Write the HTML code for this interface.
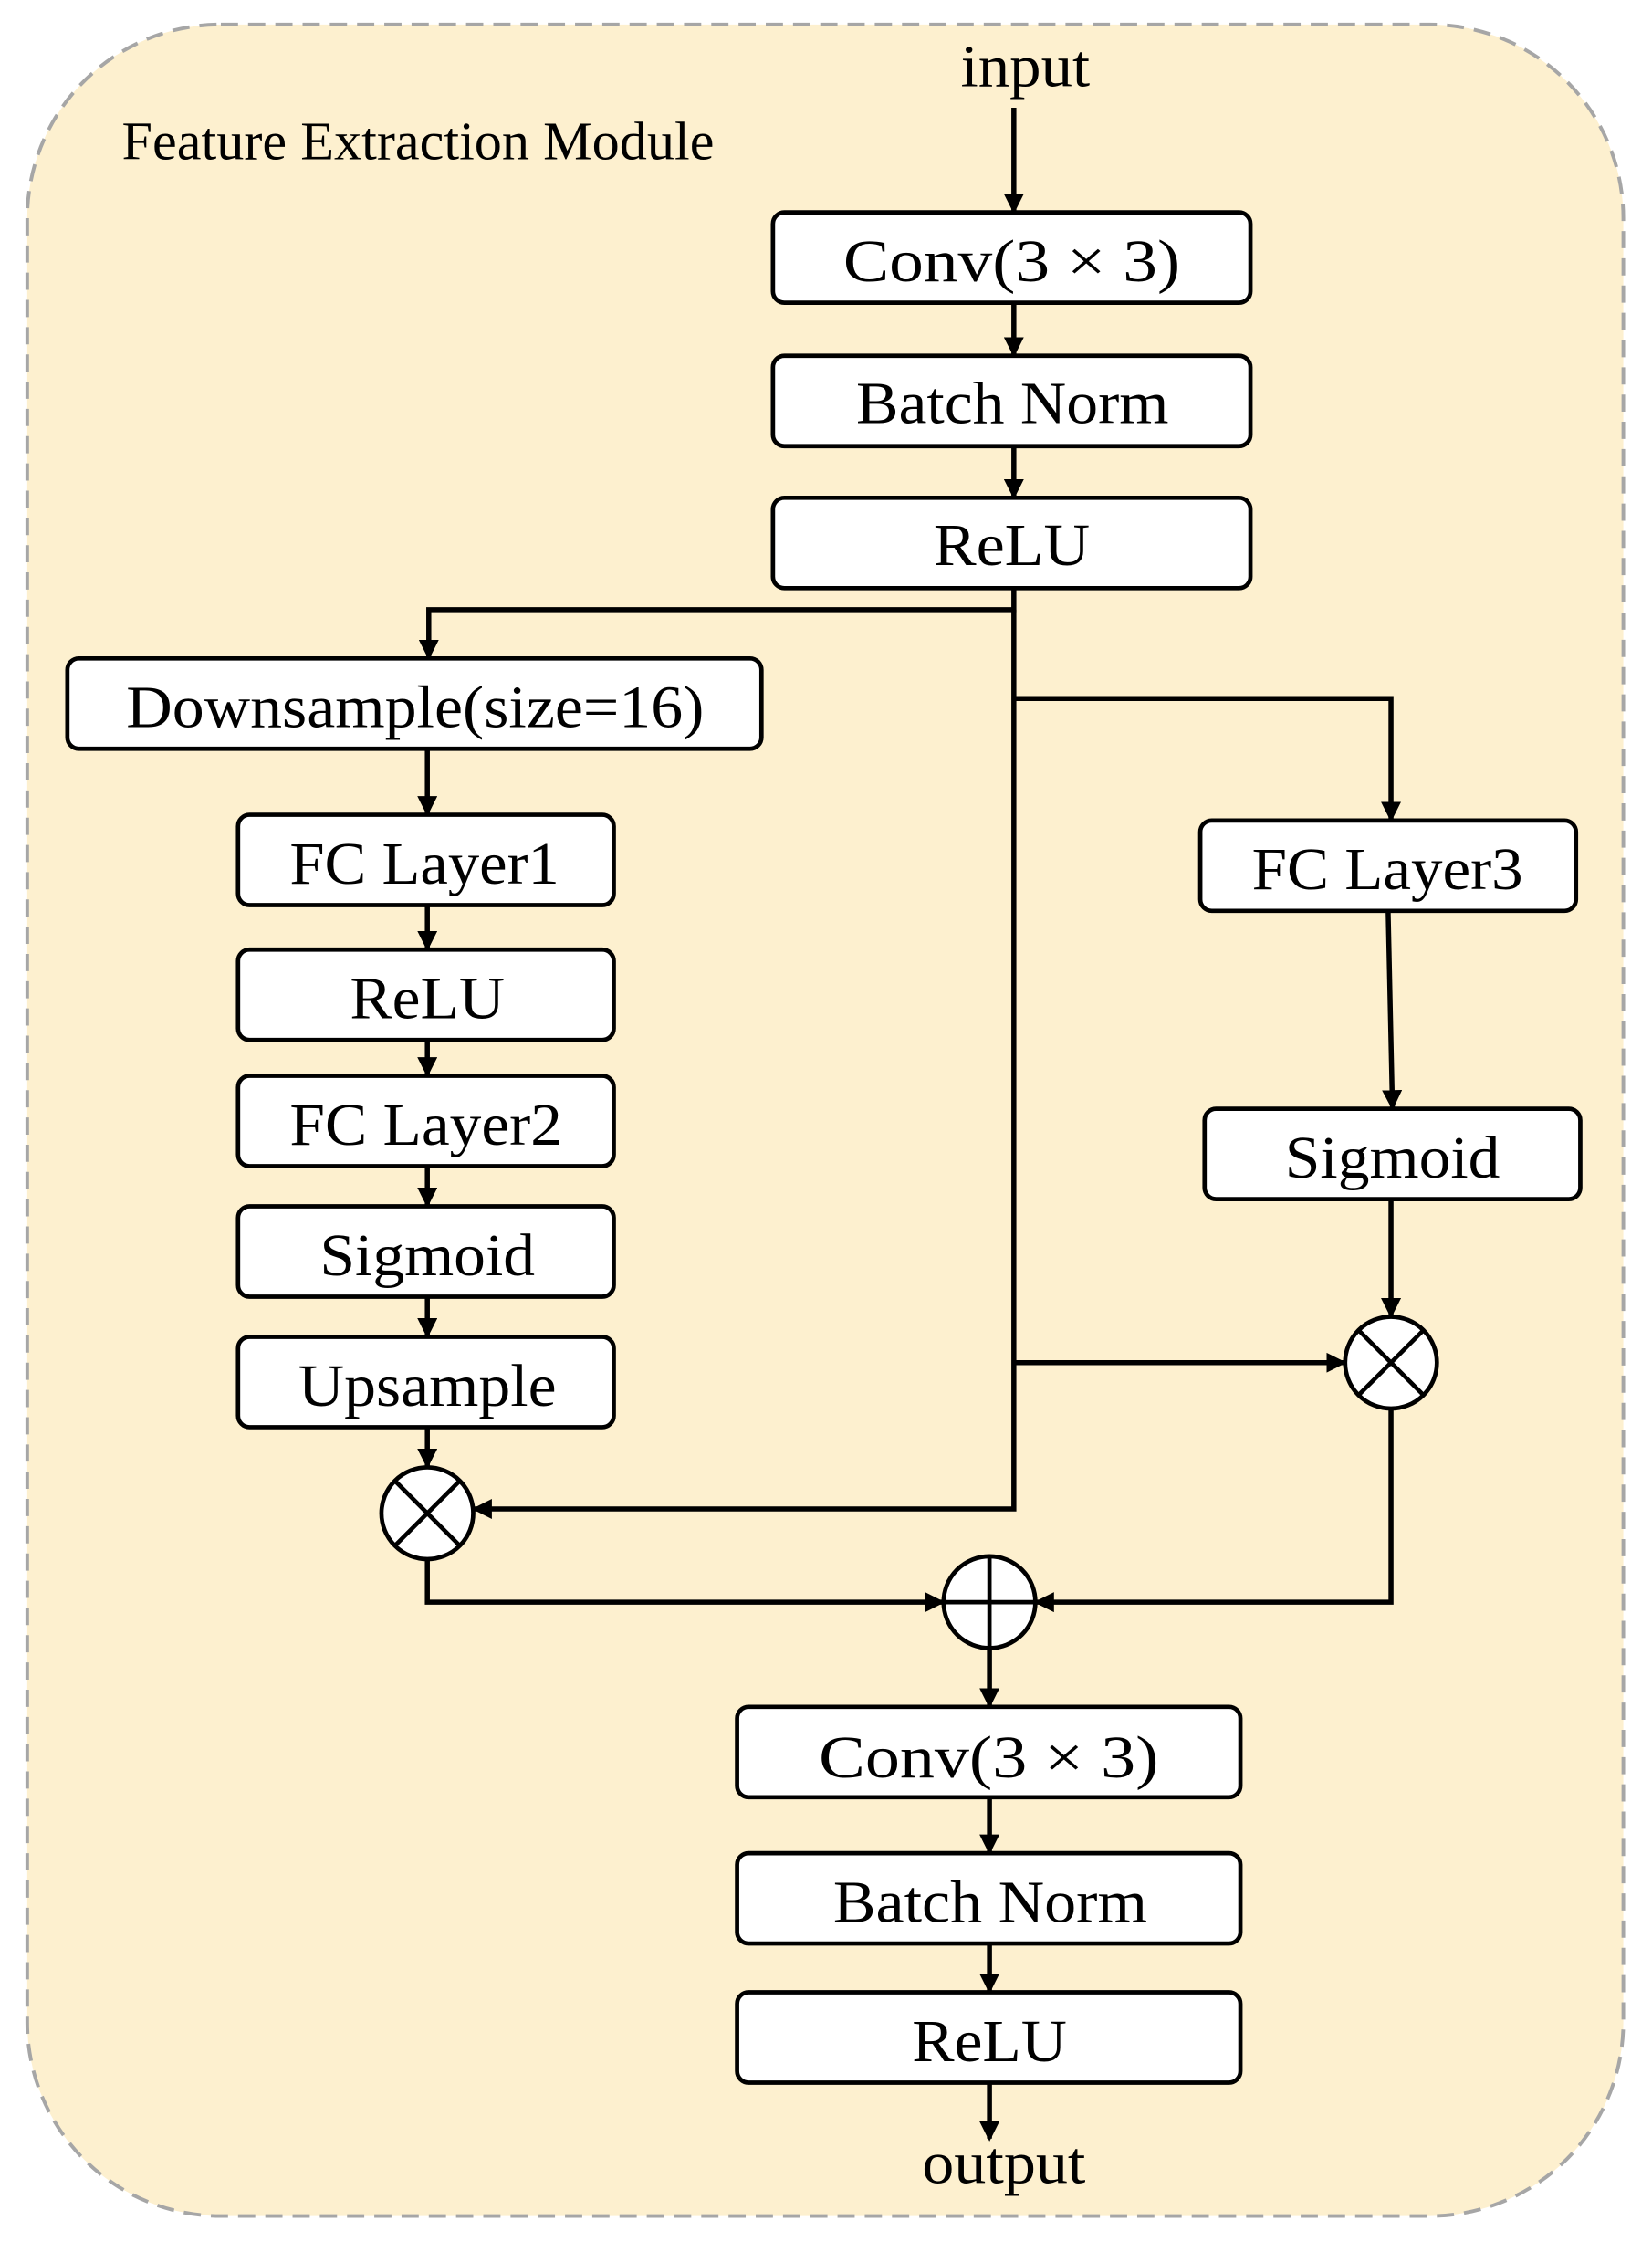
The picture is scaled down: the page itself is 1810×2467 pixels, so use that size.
<!DOCTYPE html>
<html><head><meta charset="utf-8"><style>
html,body{margin:0;padding:0;background:#fff;}
svg{display:block;}
text{font-family:"Liberation Serif",serif;fill:#000;}
</style></head><body>
<svg width="1810" height="2467" viewBox="0 0 1152 1570" xmlns="http://www.w3.org/2000/svg">
<defs>
<marker id="a" markerWidth="14" markerHeight="14" refX="12" refY="7" orient="auto" markerUnits="userSpaceOnUse">
<path d="M0,0 L14,7 L0,14 z" fill="#000"/>
</marker>
</defs>
<rect x="19" y="17" width="1113" height="1528" rx="135" fill="#fdf0cf" stroke="#a6a6a6" stroke-width="2.5" stroke-dasharray="12,7"/>
<text x="85" y="111" font-size="38" textLength="413" lengthAdjust="spacingAndGlyphs">Feature Extraction Module</text>
<text x="670" y="60" font-size="42" textLength="90" lengthAdjust="spacingAndGlyphs">input</text>
<text x="643" y="1522" font-size="42" textLength="114" lengthAdjust="spacingAndGlyphs">output</text>
<g fill="#fff" stroke="#000" stroke-width="3">
<rect x="539" y="148" width="333" height="63" rx="8"/>
<rect x="539" y="248" width="333" height="63" rx="8"/>
<rect x="539" y="347" width="333" height="63" rx="8"/>
<rect x="47" y="459" width="484" height="63" rx="8"/>
<rect x="166" y="568" width="262" height="63" rx="8"/>
<rect x="166" y="662" width="262" height="63" rx="8"/>
<rect x="166" y="750" width="262" height="63" rx="8"/>
<rect x="166" y="841" width="262" height="63" rx="8"/>
<rect x="166" y="932" width="262" height="63" rx="8"/>
<rect x="837" y="572" width="262" height="63" rx="8"/>
<rect x="840" y="773" width="262" height="63" rx="8"/>
<rect x="514" y="1190" width="351" height="63" rx="8"/>
<rect x="514" y="1292" width="351" height="63" rx="8"/>
<rect x="514" y="1389" width="351" height="63" rx="8"/>
<circle cx="298" cy="1055" r="32"/>
<circle cx="970" cy="950" r="32"/>
<circle cx="690" cy="1117" r="32"/>
</g>
<g stroke="#000" stroke-width="3">
<line x1="275" y1="1032" x2="321" y2="1078"/><line x1="321" y1="1032" x2="275" y2="1078"/>
<line x1="947" y1="927" x2="993" y2="973"/><line x1="993" y1="927" x2="947" y2="973"/>
<line x1="658" y1="1117" x2="722" y2="1117"/><line x1="690" y1="1085" x2="690" y2="1149"/>
</g>
<g fill="none" stroke="#000" stroke-width="3.5" marker-end="url(#a)">
<line x1="707" y1="75" x2="707" y2="147"/>
<line x1="707" y1="211" x2="707" y2="247"/>
<line x1="707" y1="311" x2="707" y2="346"/>
<polyline points="707,410 707,425 299,425 299,458"/>
<line x1="298" y1="522" x2="298" y2="567"/>
<line x1="298" y1="631" x2="298" y2="661"/>
<line x1="298" y1="725" x2="298" y2="749"/>
<line x1="298" y1="813" x2="298" y2="840"/>
<line x1="298" y1="904" x2="298" y2="931"/>
<line x1="298" y1="995" x2="298" y2="1022"/>
<polyline points="707,425 707,1052 331,1052"/>
<polyline points="707,487 970,487 970,571"/>
<line x1="968" y1="635" x2="971" y2="772"/>
<line x1="970" y1="836" x2="970" y2="917"/>
<line x1="707" y1="950" x2="937" y2="950"/>
<polyline points="970,982 970,1117 723,1117"/>
<polyline points="298,1087 298,1117 657,1117"/>
<line x1="690" y1="1149" x2="690" y2="1189"/>
<line x1="690" y1="1253" x2="690" y2="1291"/>
<line x1="690" y1="1355" x2="690" y2="1388"/>
<line x1="690" y1="1452" x2="690" y2="1491"/>
</g>
<g font-size="42" lengthAdjust="spacingAndGlyphs">
<text x="588" y="196" textLength="235" lengthAdjust="spacingAndGlyphs">Conv(3 × 3)</text>
<text x="597" y="295" textLength="218" lengthAdjust="spacingAndGlyphs">Batch Norm</text>
<text x="651" y="394" textLength="109" lengthAdjust="spacingAndGlyphs">ReLU</text>
<text x="88" y="507" textLength="403" lengthAdjust="spacingAndGlyphs">Downsample(size=16)</text>
<text x="202" y="616" textLength="188" lengthAdjust="spacingAndGlyphs">FC Layer1</text>
<text x="244" y="710" textLength="108" lengthAdjust="spacingAndGlyphs">ReLU</text>
<text x="202" y="798" textLength="190" lengthAdjust="spacingAndGlyphs">FC Layer2</text>
<text x="223" y="889" textLength="150" lengthAdjust="spacingAndGlyphs">Sigmoid</text>
<text x="208" y="980" textLength="180" lengthAdjust="spacingAndGlyphs">Upsample</text>
<text x="873" y="620" textLength="189" lengthAdjust="spacingAndGlyphs">FC Layer3</text>
<text x="896" y="821" textLength="150" lengthAdjust="spacingAndGlyphs">Sigmoid</text>
<text x="571" y="1239" textLength="237" lengthAdjust="spacingAndGlyphs">Conv(3 × 3)</text>
<text x="581" y="1340" textLength="219" lengthAdjust="spacingAndGlyphs">Batch Norm</text>
<text x="636" y="1437" textLength="108" lengthAdjust="spacingAndGlyphs">ReLU</text>
</g>
</svg>
</body></html>
